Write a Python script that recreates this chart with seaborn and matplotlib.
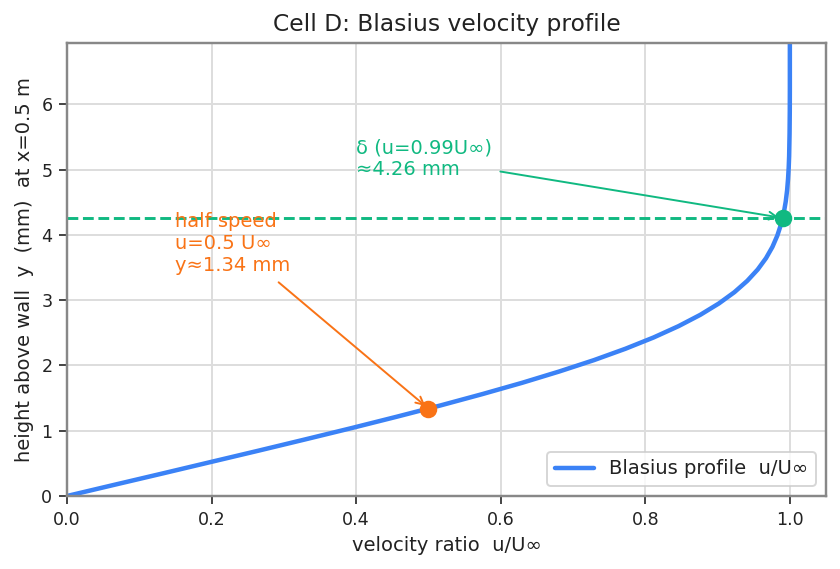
import matplotlib
matplotlib.use("Agg")
import matplotlib.pyplot as plt
import pandas as pd
import seaborn as sns

# Blasius profile: velocity ratio u/U and height y (mm)
u_ratio = [0.0, 0.0664, 0.1328, 0.1989, 0.2647, 0.3298, 0.3938, 0.4563, 0.5168,
           0.5748, 0.6298, 0.6813, 0.7290, 0.7725, 0.8115, 0.8461, 0.8761, 0.9018,
           0.9233, 0.9411, 0.9555, 0.9670, 0.9759, 0.9827, 0.9878, 0.9916, 0.9943,
           0.9962, 0.9975, 0.9984, 0.9990, 0.9996, 0.9999, 1.0, 1.0]
y_mm = [0.0, 0.174, 0.347, 0.521, 0.694, 0.868, 1.041, 1.215, 1.388,
        1.562, 1.735, 1.909, 2.082, 2.256, 2.429, 2.603, 2.776, 2.950,
        3.123, 3.297, 3.470, 3.644, 3.817, 3.991, 4.164, 4.338, 4.512,
        4.685, 4.859, 5.032, 5.206, 5.553, 5.900, 6.247, 6.941]

# marked points
delta_u, delta_y = 0.99, 4.26
half_u, half_y = 0.5, 1.34

blue = "#3b82f6"
green = "#10b981"
orange = "#f97316"

sns.set_theme(style="whitegrid", context="notebook")
plt.rcParams.update({
    "axes.edgecolor": "#888888",
    "grid.color": "#dddddd",
    "xtick.bottom": True,
    "ytick.left": True,
    "xtick.color": "#222222",
    "ytick.color": "#222222",
    "text.color": "#222222",
    "axes.labelcolor": "#222222",
})
plt.rcParams["font.family"] = ["DejaVu Sans"]

df = pd.DataFrame({"u": u_ratio, "y": y_mm})

fig, ax = plt.subplots(figsize=(6, 569 / 140), dpi=140)
sns.lineplot(data=df, x="u", y="y", ax=ax, color=blue, linewidth=2.3,
             sort=False, estimator=None, label="Blasius profile  u/U∞")

ax.axhline(delta_y, color=green, linestyle="--", linewidth=1.5)
ax.plot([delta_u], [delta_y], "o", color=green, markersize=8, zorder=5)
ax.plot([half_u], [half_y], "o", color=orange, markersize=8, zorder=5)

ax.annotate("δ (u=0.99U∞)\n≈4.26 mm", xy=(delta_u, delta_y), xytext=(0.40, 4.85),
            color=green, fontsize=10, va="bottom",
            arrowprops=dict(arrowstyle="->", color=green, lw=1))
ax.annotate("half speed\nu=0.5 U∞\ny≈1.34 mm", xy=(half_u, half_y), xytext=(0.15, 3.38),
            color=orange, fontsize=10, va="bottom",
            arrowprops=dict(arrowstyle="->", color=orange, lw=1))

ax.set_xlim(0, 1.05)
ax.set_ylim(0, max(y_mm))
ax.set_xlabel("velocity ratio  u/U∞", fontsize=10)
ax.set_ylabel("height above wall  y  (mm)  at x=0.5 m", fontsize=10)
ax.set_title("Cell D: Blasius velocity profile", fontsize=12)
ax.tick_params(labelsize=9, length=4, width=1, color="#444444")
ax.legend(loc="lower right", fontsize=10)

fig.subplots_adjust(left=67 / 840, right=826 / 840, top=1 - 43 / 569, bottom=1 - 496 / 569)
fig.savefig("out.png", dpi=140)
